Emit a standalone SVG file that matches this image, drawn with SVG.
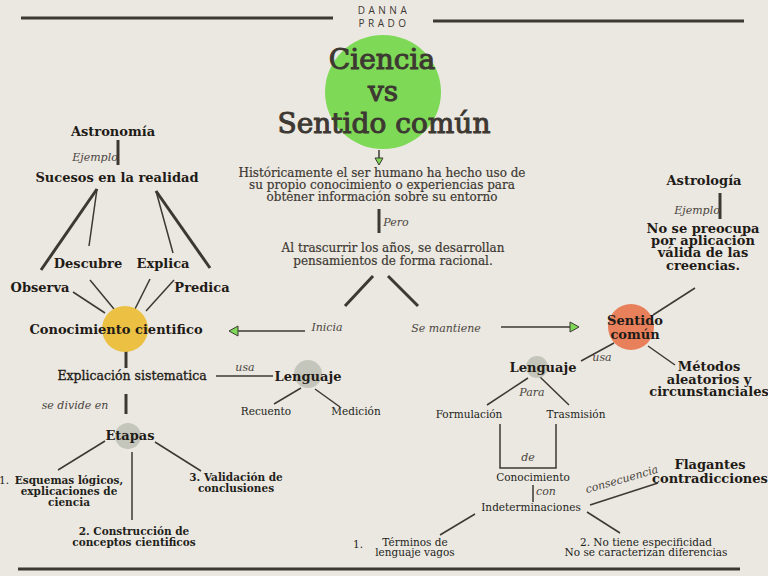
<svg xmlns="http://www.w3.org/2000/svg" width="768" height="576" viewBox="0 0 768 576">
<defs>
<style>
text{font-family:"DejaVu Serif","Liberation Serif",serif;fill:#1f1b17;text-anchor:middle}
.t{fill:#3d3832;font-size:28px;stroke:#3d3832;stroke-width:1}
.b{font-weight:bold;font-size:13px}
.r{font-size:10.5px;fill:#231f1b}
.m{font-size:12px;fill:#3d3832;stroke:#3d3832;stroke-width:0.2}
.i{font-style:italic;font-size:11px;fill:#4a4540}
.sig{font-family:"Open Sans","DejaVu Sans",sans-serif;font-size:10px;letter-spacing:3.5px;fill:#3d3832}
.k{stroke:#3d3832;stroke-width:3;fill:none}
.n{stroke:#3d3832;stroke-width:1.5;fill:none}
.ar{fill:#7ed957;stroke:#3d3832;stroke-width:1}
</style>
</defs>
<rect width="768" height="576" fill="#ebe8e1"/>

<g id="connectors">
<line class="k" x1="21" y1="18" x2="333" y2="18"/>
<line class="k" x1="433" y1="21" x2="744" y2="21"/>
<line class="k" x1="18" y1="569" x2="740" y2="569"/>
<line class="n" x1="379" y1="150" x2="379" y2="160"/>
<polygon class="ar" points="375,158 383,158 379,165"/>
<line class="k" x1="379" y1="209" x2="379" y2="233"/>
<line class="k" x1="373" y1="276" x2="345" y2="306"/>
<line class="k" x1="388" y1="276" x2="418" y2="306"/>
<line class="n" x1="305" y1="331" x2="236" y2="331"/>
<polygon class="ar" points="238,326 238,336 229,331"/>
<line class="n" x1="501" y1="327" x2="571" y2="327"/>
<polygon class="ar" points="570,322 570,332 579,327"/>
<line class="k" x1="118" y1="140" x2="118" y2="165"/>
<line class="k" x1="97" y1="189" x2="41" y2="270"/>
<line class="n" x1="97" y1="189" x2="89" y2="246"/>
<line class="n" x1="156" y1="191" x2="173" y2="253"/>
<line class="k" x1="156" y1="191" x2="210" y2="268"/>
<line class="n" x1="73" y1="292" x2="105" y2="313"/>
<line class="n" x1="90" y1="280" x2="114" y2="309"/>
<line class="n" x1="150" y1="279" x2="135" y2="309"/>
<line class="n" x1="174" y1="280" x2="146" y2="311"/>
<line class="k" x1="126" y1="350" x2="126" y2="368"/>
<line class="n" x1="216" y1="376" x2="273" y2="376"/>
<line class="n" x1="301" y1="388" x2="274" y2="404"/>
<line class="n" x1="315" y1="389" x2="340" y2="407"/>
<line class="k" x1="126" y1="394" x2="126" y2="414"/>
<line class="n" x1="105" y1="441" x2="58" y2="470"/>
<line class="n" x1="132" y1="452" x2="132" y2="520"/>
<line class="n" x1="155" y1="442" x2="201" y2="471"/>
<line class="k" x1="720" y1="193" x2="720" y2="219"/>
<line class="n" x1="695" y1="288" x2="653" y2="315"/>
<line class="n" x1="614" y1="343" x2="581" y2="361"/>
<line class="n" x1="648" y1="346" x2="675" y2="365"/>
<line class="n" x1="528" y1="378" x2="487" y2="405"/>
<line class="n" x1="540" y1="377" x2="569" y2="405"/>
<polyline class="n" points="500,424 500,468 556,468 556,424"/>
<line class="n" x1="533" y1="485" x2="533" y2="502" stroke-width="2"/>
<line class="n" x1="590" y1="505" x2="658" y2="483"/>
<line class="n" x1="587" y1="512" x2="620" y2="533"/>
<line class="n" x1="475" y1="514" x2="440" y2="535"/>
</g>

<g id="signature">
<text class="sig" x="384" y="14">DANNA</text>
<text class="sig" x="384" y="27">PRADO</text>
</g>

<g id="title">
<ellipse cx="383" cy="92" rx="58" ry="57" fill="#7ed957"/>
<text class="t" x="382" y="69">Ciencia</text>
<text class="t" x="383" y="101">vs</text>
<text class="t" x="384" y="133">Sentido común</text>
</g>

<g id="historia">
<text class="m" x="382" y="176.5">Históricamente el ser humano ha hecho uso de</text>
<text class="m" x="382" y="189">su propio conocimiento o experiencias  para</text>
<text class="m" x="382" y="200.5">obtener información sobre su entorno</text>
<text class="i" x="396" y="226">Pero</text>
</g>

<g id="racional">
<text class="m" x="393" y="252">Al trascurrir los años, se desarrollan</text>
<text class="m" x="393" y="265">pensamientos de forma racional.</text>
</g>

<g id="labels-mid">
<text class="i" x="327" y="331" font-size="12">Inicia</text>
<text class="i" x="446" y="332" font-size="12">Se mantiene</text>
</g>

<g id="astronomia"><text class="b" x="113" y="136">Astronomía</text>
<text class="i" x="95" y="161" font-size="8.5">Ejemplo</text></g>
<g id="sucesos"><text class="b" x="117" y="182">Sucesos en la realidad</text></g>
<g id="descubre"><text class="b" x="88" y="268" font-size="11.5">Descubre</text></g>
<g id="explica"><text class="b" x="163" y="268" font-size="11.5">Explica</text></g>
<g id="observa"><text class="b" x="40" y="292" font-size="11.5">Observa</text></g>
<g id="predica"><text class="b" x="202" y="292" font-size="11.5">Predica</text></g>

<g id="conocimiento-cientifico">
<circle cx="125" cy="329" r="23" fill="#ebc043"/>
<text class="b" x="116" y="334" font-size="14.5">Conocimiento cientifico</text>
</g>

<g id="explicacion"><text x="132" y="380" font-size="12.5" stroke="#1f1b17" stroke-width="0.35">Explicación sistematica</text>
<text class="i" x="245" y="371">usa</text>
<text class="i" x="75" y="409" font-size="12">se divide en</text></g>

<g id="lenguaje-1">
<circle cx="308" cy="374" r="14" fill="#c5c6bb"/>
<text class="b" x="308" y="381" font-size="12">Lenguaje</text>
</g>
<g id="recuento"><text class="r" x="266" y="415" font-size="11">Recuento</text></g>
<g id="medicion"><text class="r" x="356" y="415" font-size="11">Medición</text></g>

<g id="etapas">
<circle cx="128" cy="436" r="13" fill="#c5c6bb"/>
<text class="b" x="130" y="440" font-size="11.5">Etapas</text>
</g>
<g id="etapa-1">
<text class="r" x="4" y="484" font-size="9.5">1.</text>
<text class="r" x="69" y="484" font-weight="bold">Esquemas lógicos,</text>
<text class="r" x="69" y="495" font-weight="bold">explicaciones de</text>
<text class="r" x="69" y="505.5" font-weight="bold">ciencia</text>
</g>
<g id="etapa-3">
<text class="r" x="236" y="481" font-weight="bold">3. Validación de</text>
<text class="r" x="236" y="492" font-weight="bold">conclusiones</text>
</g>
<g id="etapa-2">
<text class="r" x="134" y="535" font-weight="bold">2. Construcción de</text>
<text class="r" x="134" y="546" font-weight="bold">conceptos cientificos</text>
</g>

<g id="astrologia"><text class="b" x="704" y="185">Astrología</text>
<text class="i" x="697" y="214" font-size="8.5">Ejemplo</text></g>
<g id="no-preocupa">
<text class="b" x="703" y="233" font-size="12">No se preocupa</text>
<text class="b" x="703" y="245" font-size="12">por aplicación</text>
<text class="b" x="703" y="257" font-size="12">válida de las</text>
<text class="b" x="703" y="270" font-size="12">creencias.</text>
</g>

<g id="sentido-comun">
<circle cx="631" cy="327" r="23" fill="#e8805c"/>
<text class="b" x="635" y="325">Sentido</text>
<text class="b" x="635" y="339">común</text>
</g>
<g id="metodos">
<text class="b" x="709" y="371" font-size="12">Métodos</text>
<text class="b" x="709" y="384" font-size="12">aleatorios y</text>
<text class="b" x="709" y="396" font-size="12">circunstanciales</text>
</g>
<g id="lenguaje-2">
<circle cx="537" cy="367" r="11" fill="#c5c6bb"/>
<text class="b" x="543" y="372" font-size="12">Lenguaje</text>
<text class="i" x="602" y="361">usa</text>
<text class="i" x="532" y="396" font-size="10">Para</text>
</g>
<g id="formulacion"><text class="r" x="469" y="418" font-size="11">Formulación</text></g>
<g id="trasmision"><text class="r" x="576" y="418" font-size="11">Trasmisión</text></g>
<g id="conocimiento"><text class="i" x="528" y="461" font-size="12">de</text>
<text class="r" x="533" y="481" font-size="11">Conocimiento</text>
<text class="i" x="546" y="495" font-size="10">con</text></g>
<g id="indeterminaciones"><text class="r" x="531" y="511" font-size="11">Indeterminaciones</text></g>
<g id="flagantes">
<text class="i" x="622" y="483" font-size="10" transform="rotate(-16 622 480)">consecuencia</text>
<text class="b" x="710" y="469" font-size="12">Flagantes</text>
<text class="b" x="710" y="483" font-size="12">contradicciones</text>
</g>
<g id="especificidad">
<text class="r" x="646" y="545.5">2. No tiene especificidad</text>
<text class="r" x="646" y="556">No se caracterizan diferencias</text>
</g>
<g id="terminos">
<text class="r" x="358" y="548" font-size="9.5">1.</text>
<text class="r" x="415" y="545.5">Términos de</text>
<text class="r" x="415" y="556">lenguaje vagos</text>
</g>
</svg>
